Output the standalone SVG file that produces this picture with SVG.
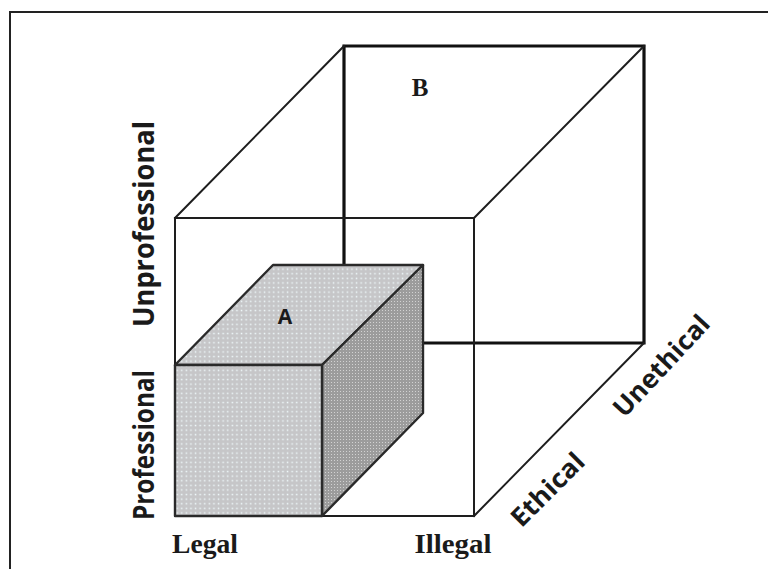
<svg xmlns="http://www.w3.org/2000/svg" width="768" height="569" viewBox="0 0 768 569">
  <style>
    .edge { fill: none; stroke: #1e1e1e; stroke-width: 2; stroke-linecap: square; }
    .back { fill: none; stroke: #111; stroke-width: 3.2; stroke-linecap: square; }
    .solid { stroke: #2a2a2a; stroke-width: 2.4; stroke-linejoin: round; }
    .sans { font-family: "Open Sans", "Liberation Sans", sans-serif; font-weight: 700; fill: #1a1a1a; }
    .serif { font-family: "Liberation Serif", "DejaVu Serif", serif; font-weight: bold; fill: #1a1a1a; }
  </style>
  <defs>
    <!-- light dotted screen for the lit faces of box A -->
    <pattern id="dotsLight" width="4.6" height="4.6" patternUnits="userSpaceOnUse">
      <rect width="4.6" height="4.6" fill="#c6c6c8"/>
      <rect x="1.6" y="1.6" width="1.5" height="1.5" fill="#eef8fa"/>
    </pattern>
    <!-- denser, darker screen for the shaded side -->
    <pattern id="dotsDark" width="3" height="3" patternUnits="userSpaceOnUse">
      <rect width="3" height="3" fill="#9c9c9c"/>
      <rect x="1" y="1" width="1" height="1" fill="#d2d2d2"/>
    </pattern>
  </defs>

  <rect width="768" height="569" fill="#fff"/>
  <!-- page frame -->
  <rect x="10" y="12" width="800" height="620" fill="none" stroke="#222" stroke-width="2"/>

  <g id="connectors">
    <!-- back face of the large cube -->
    <path class="back" d="M344,265 V46 H644 V343 H423"/>
    <!-- depth edges -->
    <path class="edge" d="M175,218 L344,46 M474,218 L644,46 M474,516 L644,343"/>
    <!-- front face of the large cube -->
    <path class="edge" d="M175,218 H474 V516 H175 Z"/>
  </g>

  <g id="boxA">
    <polygon class="solid" points="175,365 322,365 423,265 273,265" fill="url(#dotsLight)"/>
    <polygon class="solid" points="322,365 423,265 423,413 322,516" fill="url(#dotsDark)"/>
    <rect class="solid" x="175" y="365" width="147" height="151" fill="url(#dotsLight)"/>
    <text class="sans" x="285" y="324" font-size="21" font-weight="600" text-anchor="middle">A</text>
  </g>

  <g id="regionB">
    <text class="serif" x="420" y="96" font-size="25" text-anchor="middle" font-weight="normal">B</text>
  </g>

  <g id="axisLabels">
    <text class="sans" transform="translate(154,224) rotate(-90)" font-size="28" text-anchor="middle" textLength="206" lengthAdjust="spacingAndGlyphs">Unprofessional</text>
    <text class="sans" transform="translate(154,445) rotate(-90)" font-size="28" text-anchor="middle" textLength="150" lengthAdjust="spacingAndGlyphs">Professional</text>
    <text class="serif" x="205" y="553" font-size="27" text-anchor="middle" textLength="66" lengthAdjust="spacingAndGlyphs">Legal</text>
    <text class="serif" x="453" y="553" font-size="27" text-anchor="middle" textLength="77" lengthAdjust="spacingAndGlyphs">Illegal</text>
    <text class="sans" transform="translate(554,496) rotate(-45)" font-size="26" text-anchor="middle" textLength="92" lengthAdjust="spacingAndGlyphs">Ethical</text>
    <text class="sans" transform="translate(668,372) rotate(-47)" font-size="26" text-anchor="middle" textLength="128" lengthAdjust="spacingAndGlyphs">Unethical</text>
  </g>
</svg>
